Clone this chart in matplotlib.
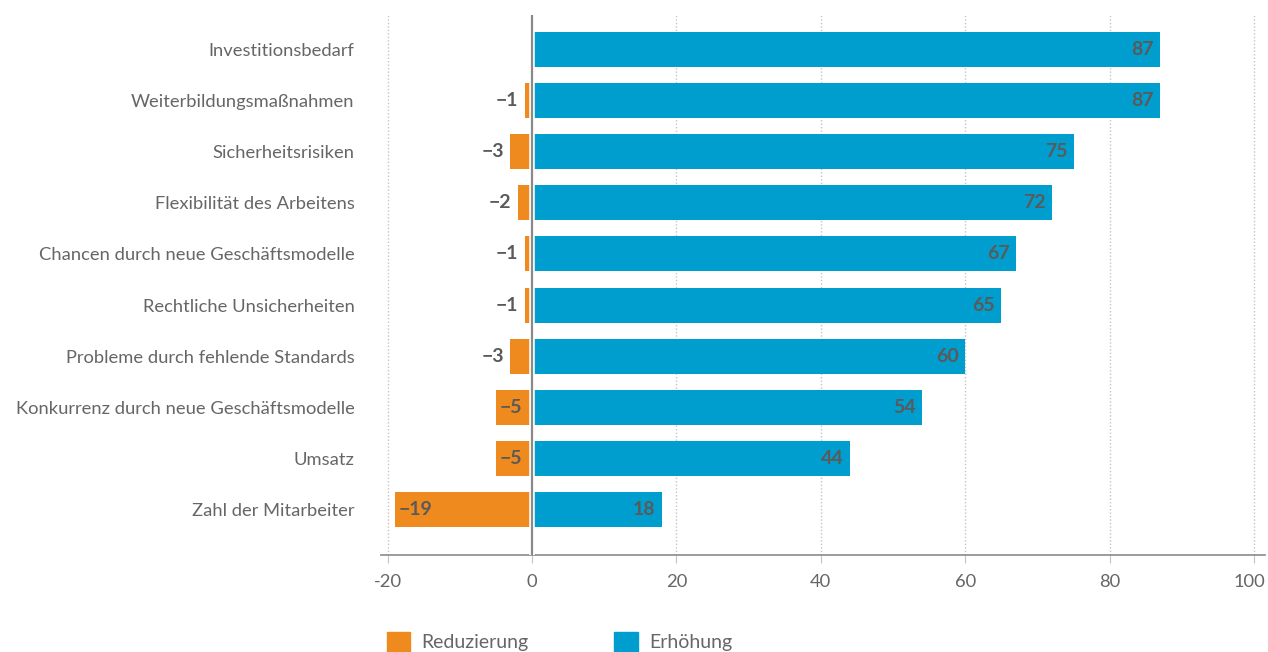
import matplotlib.pyplot as plt
import matplotlib.transforms as mtransforms
from matplotlib.patches import Patch
from matplotlib import patheffects

categories = [
    "Investitionsbedarf",
    "Weiterbildungsmaßnahmen",
    "Sicherheitsrisiken",
    "Flexibilität des Arbeitens",
    "Chancen durch neue Geschäftsmodelle",
    "Rechtliche Unsicherheiten",
    "Probleme durch fehlende Standards",
    "Konkurrenz durch neue Geschäftsmodelle",
    "Umsatz",
    "Zahl der Mitarbeiter",
]
reduzierung = [0, -1, -3, -2, -1, -1, -3, -5, -5, -19]
erhoehung = [87, 87, 75, 72, 67, 65, 60, 54, 44, 18]
xticks = [-20, 0, 20, 40, 60, 80, 100]

orange = "#EF8A1E"
blue = "#009ECE"
txt = "#5a5a5a"
lbl = "#666666"

plt.rcParams["font.family"] = ["Lato", "DejaVu Sans"]

fig = plt.figure(figsize=(12.68, 6.52), dpi=100)
ax = fig.add_axes([381 / 1268, 1 - 555 / 652, 884 / 1268, 540 / 652])

y = list(range(len(categories)))
h = 0.685
ax.barh(y, reduzierung, height=h, color=orange, linewidth=0, zorder=2)
ax.barh(y, erhoehung, height=h, color=blue, linewidth=0, zorder=2)

# zero line with white gap on both sides
ax.axvline(0, color="#8a8a8a", lw=1.6, zorder=4,
           path_effects=[patheffects.Stroke(linewidth=4, foreground="white"), patheffects.Normal()])

# dotted grid
for t in xticks:
    if t != 0:
        ax.axvline(t, color="#c4c4c4", lw=1, ls=(0, (1, 1.5)), zorder=1)

# value labels
lab_kw = dict(textcoords="offset points", va="center", fontsize=14,
              fontweight="bold", color=txt, zorder=5)
for i, v in enumerate(erhoehung):
    ax.annotate(str(v), (v, i), xytext=(-4.5, 0), ha="right", **lab_kw)
for i, v in enumerate(reduzierung):
    if v == 0:
        continue
    lab = "\u2212" + str(abs(v))
    if abs(v) >= 5:
        ax.annotate(lab, (v, i), xytext=(3, 0), ha="left", **lab_kw)
    else:
        ax.annotate(lab, (v, i), xytext=(-4.5, 0), ha="right", **lab_kw)

ax.set_xlim(-20.9, 101.5)
ax.set_ylim(9.89, -0.675)
ax.set_yticks(y)
ax.set_yticklabels(categories)
ax.set_xticks(xticks)
ax.set_xticklabels(["-20", "0", "20", "40", "60", "80", "100"])

for s in ["top", "right", "left"]:
    ax.spines[s].set_visible(False)
ax.spines["bottom"].set_color("#8a8a8a")
ax.spines["bottom"].set_linewidth(1.2)
ax.tick_params(axis="y", length=0, pad=19, labelsize=13.2, labelcolor=lbl)
ax.tick_params(axis="x", length=6, color="#c4c4c4", pad=8, labelsize=13.2, labelcolor=lbl)

# nudge the last tick label so it stays inside the figure
last = ax.get_xticklabels()[-1]
last.set_transform(last.get_transform() + mtransforms.ScaledTranslation(-5 / 100, 0, fig.dpi_scale_trans))

handles = [Patch(color=orange, label="Reduzierung"), Patch(color=blue, label="Erhöhung")]
fig.legend(handles=handles, loc="upper left", bbox_to_anchor=(377 / 1268, 1 - 622 / 652),
           ncol=2, frameon=False, handlelength=1.2, handleheight=1.2,
           handletextpad=0.6, columnspacing=4.4, borderpad=0, labelcolor=lbl,
           prop={"size": 14})

fig.savefig("out.png", dpi=100)
